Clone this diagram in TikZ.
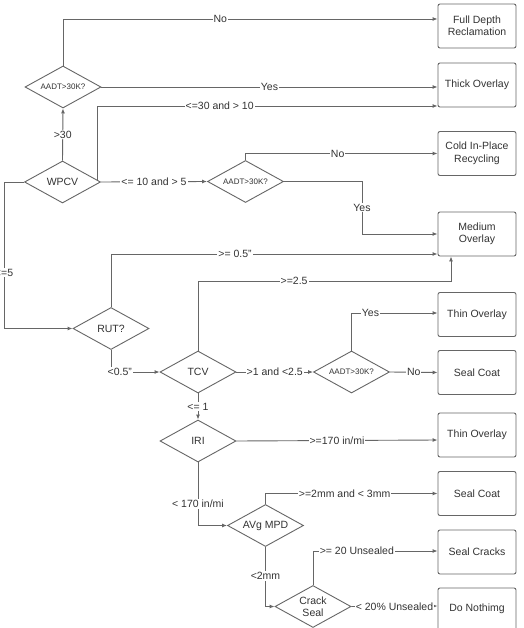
\documentclass[tikz,border=0pt]{standalone}
\usepackage{fontspec}
\setmainfont{Liberation Sans}
\usetikzlibrary{shapes.geometric,arrows.meta,calc}
\definecolor{ln}{HTML}{666666}
\definecolor{tx}{HTML}{333333}
\begin{document}
\begin{tikzpicture}[x=1pt,y=-1pt,
  box/.style={draw=ln,line width=0.9pt,rounded corners=2pt,minimum width=78pt,minimum height=44pt,align=center,font=\fontsize{10.5}{12.5}\selectfont,text=tx,inner sep=1pt},
  dec/.style={diamond,draw=ln,line width=0.9pt,minimum width=76pt,minimum height=42pt,aspect=1.8,inner sep=0pt,align=center,font=\fontsize{10.5}{12}\selectfont,text=tx},
  small/.style={font=\fontsize{8}{9}\selectfont},
  conn/.style={draw=ln,line width=0.9pt,-{Latex[length=5pt,width=4pt]}},
  lab/.style={fill=white,inner sep=1pt,text=tx,font=\fontsize{10.5}{12}\selectfont}
]
\useasboundingbox[fill=white] (0,0) rectangle (523,628);

% boxes
\node[box] (fdr) at (477,26) {Full Depth\\Reclamation};
\node[box] (thick) at (477,85) {Thick Overlay};
\node[box] (cir) at (477,153.5) {Cold In-Place\\Recycling};
\node[box] (med) at (477,234) {Medium\\Overlay};
\node[box] (thin1) at (477,314.5) {Thin Overlay};
\node[box] (seal1) at (477,372.5) {Seal Coat};
\node[box] (thin2) at (477,435) {Thin Overlay};
\node[box] (seal2) at (477,493.5) {Seal Coat};
\node[box] (cracks) at (477,552) {Seal Cracks};
\node[box,minimum height=42pt] (nothing) at (477,609) {Do Nothimg};

% decisions
\node[dec,small] (a1) at (63,87) {AADT>30K?};
\node[dec] (wpcv) at (62.5,182) {WPCV};
\node[dec,small] (a2) at (245.5,181.5) {AADT>30K?};
\node[dec] (rut) at (111,328.5) {RUT?};
\node[dec] (tcv) at (198,372) {TCV};
\node[dec,small] (a3) at (351.5,372) {AADT>30K?};
\node[dec] (iri) at (198,441) {IRI};
\node[dec] (mpd) at (265.5,525.5) {AVg MPD};
\node[dec,align=center] (crack) at (313,606.5) {Crack\\Seal};

\coordinate (wq) at ($(wpcv.north)!0.9!(wpcv.east)$);
\coordinate (m2) at (451,281);

% connectors
\draw[conn] (a1.north) |- node[lab,pos=0.71] {No} ([yshift=7pt]fdr.west);
\draw[conn] (a1.east) -- node[lab] {Yes} ([yshift=-2pt]thick.west);
\draw[conn] (wpcv.north) -- node[lab] {>30} (a1.south);
\draw[conn] (wq) |- node[lab,pos=0.68] {<=30 and > 10} ([yshift=-21pt]thick.west);
\draw[conn] (wpcv.east) -- node[lab] {<= 10 and > 5} (a2.west);
\draw[conn] (a2.north) |- node[lab,pos=0.74] {No} (cir.west);
\draw[conn] (a2.east) -- ++(78,0) |- node[lab,pos=0.25] {Yes} (med.west);
\draw[conn] (wpcv.west) -- ++(-20,0) |- node[lab,pos=0.31] {<=5} (rut.west);
\draw[conn] (rut.north) |- node[lab,pos=0.69] {>= 0.5"} ([yshift=-20pt]med.west);
\draw[conn] (tcv.north) |- node[lab,pos=0.69] {>=2.5} (m2) -- ([xshift=-26pt]med.south);
\draw[conn] (rut.south) |- node[lab,pos=0.59] {<0.5"} (tcv.west);
\draw[conn] (tcv.east) -- node[lab] {>1 and <2.5} (a3.west);
\draw[conn] (a3.north) |- node[lab,pos=0.61] {Yes} ([yshift=1.5pt]thin1.west);
\draw[conn] (a3.east) -- node[lab] {No} (seal1.west);
\draw[conn] (tcv.south) -- node[lab] {<= 1} (iri.north);
\draw[conn] (iri.east) -- node[lab] {>=170 in/mi} ([yshift=-5pt]thin2.west);
\draw[conn] (iri.south) |- node[lab,pos=0.33] {< 170 in/mi} (mpd.west);
\draw[conn] (mpd.north) |- node[lab,pos=0.73] {>=2mm and < 3mm} (seal2.west);
\draw[conn] (mpd.south) |- node[lab,pos=0.245] {<2mm} (crack.west);
\draw[conn] (crack.north) |- node[lab,pos=0.676] {>= 20 Unsealed} ([yshift=1pt]cracks.west);
\draw[conn] (crack.east) -- node[lab] {< 20\% Unsealed} ([yshift=3pt]nothing.west);
\end{tikzpicture}
\end{document}
